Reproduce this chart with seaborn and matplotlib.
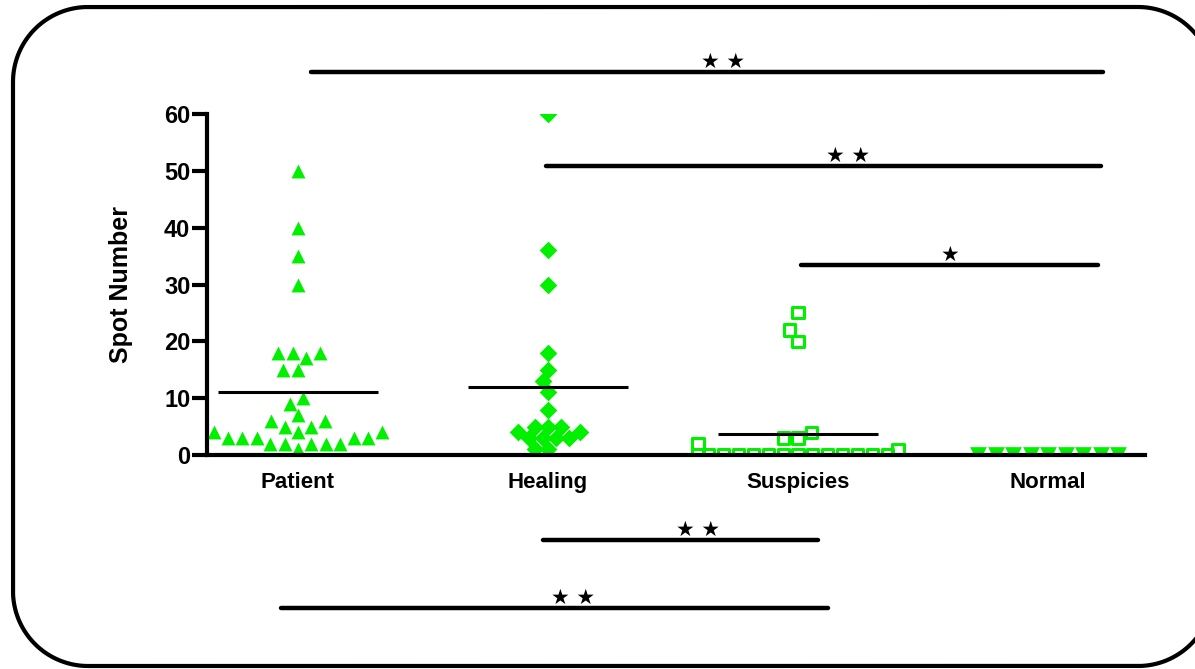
#-------------------------------------------
# Spot number per group: column scatter with
# group means and significance bars
#-------------------------------------------

import numpy as np
import pandas as pd
import matplotlib
matplotlib.use("Agg")
import matplotlib.pyplot as plt
import seaborn as sns
import warnings

warnings.filterwarnings("ignore")

#------------------ DATA -------------------------------------------

groups = ["Patient", "Healing", "Suspicies", "Normal"]

patient = [50, 40, 35, 30, 18, 18, 18, 17, 15, 15, 10, 9, 7, 6, 6, 5, 5,
           4, 4, 4, 3, 3, 3, 3, 3, 2, 2, 2, 2, 2, 1]
healing = [60, 36, 30, 18, 15, 13, 11, 8, 5, 5, 5, 4, 4, 3, 3, 3, 3, 1, 1]
suspicies = [25, 22, 20, 4, 3, 3, 2, 1, 0, 0, 0, 0, 0, 0, 0, 0, 0, 0, 0, 0, 0, 0]
normal = [0, 0, 0, 0, 0, 0, 0, 0, 0]

y_ticks = [0, 10, 20, 30, 40, 50, 60]

# significance comparisons: (start, end, bar level, label)
comparisons = [
    (0.05, 3.22, 67.4, "★ ★"),
    (0.99, 3.21, 50.9, "★ ★"),
    (2.01, 3.20, 33.4, "★"),
    (0.98, 2.08, -15.0, "★ ★"),
    (-0.07, 2.12, -26.9, "★ ★"),
]
star_x = [1.70, 2.20, 2.61, 1.60, 1.10]

#------------------ DATA VISUALISATION -----------------------------

sns.set_style("white")
plt.rcParams['font.family'] = ['Liberation Sans', 'DejaVu Sans']
plt.rcParams['text.color'] = 'black'
plt.rcParams['axes.labelcolor'] = 'black'
plt.rcParams['xtick.color'] = 'black'
plt.rcParams['ytick.color'] = 'black'

green = "#00f000"
W, H = 1195, 669

fig = plt.figure(figsize = (W/100, H/100), dpi = 100)

# Background axes in pixel units, holds the rounded frame (drawn as a polyline)

bg = fig.add_axes([0, 0, 1, 1], zorder = -1)
bg.set_xlim(0, W)
bg.set_ylim(0, H)
bg.axis("off")

fx0, fx1, fy0, fy1, r = 13, 1213, 3, 662, 75
t = np.linspace(0, np.pi / 2, 40)
fx = np.concatenate([fx1 - r + r*np.cos(t), fx0 + r - r*np.sin(t),
                     fx0 + r - r*np.cos(t), fx1 - r + r*np.sin(t), [fx1]])
fy = np.concatenate([fy1 - r + r*np.sin(t), fy1 - r + r*np.cos(t),
                     fy0 + r - r*np.sin(t), fy0 + r - r*np.cos(t), [fy1 - r]])
bg.plot(fx, fy, color = "black", linewidth = 3, clip_on = False)

ax = fig.add_axes([207/W, 1 - 455/H, (1145 - 207)/W, (455 - 114)/H])
ax.patch.set_alpha(0)

values = [patient, healing, suspicies, normal]
markers = ["^", "D", "s", "v"]
sizes = [10, 9, 8, 12]

for g, v, m, s in zip(groups, values, markers, sizes):
    d = pd.DataFrame({"group": [g] * len(v), "spots": v})
    if m == "s":
        sns.swarmplot(data = d, x = "group", y = "spots", order = groups, marker = m,
                      size = s, facecolor = "none", edgecolor = green, linewidth = 2.2,
                      ax = ax)
    else:
        sns.swarmplot(data = d, x = "group", y = "spots", order = groups, marker = m,
                      size = s, color = green, linewidth = 0, ax = ax)

# Group means

for i, v in enumerate(values):
    ax.hlines(np.mean(v), i - 0.32, i + 0.32, color = "black", linewidth = 2.2, zorder = 4)

# Significance bars

for (x0, x1, lvl, lab), sx in zip(comparisons, star_x):
    ax.plot([x0, x1], [lvl, lvl], color = "black", linewidth = 3.2,
            solid_capstyle = "round", clip_on = False, zorder = 5)
    ax.text(sx, lvl, lab, ha = "center", va = "bottom", fontsize = 15, color = "black",
            family = "DejaVu Sans", clip_on = False)

# Axes styling

ax.set_xlim(-0.364, 3.388)
ax.set_ylim(0, 60)
ax.set_yticks(y_ticks)
ax.set_xlabel("")
ax.set_ylabel("Spot Number", fontsize = 18, fontweight = "bold", labelpad = 22)

for side in ["top", "right"]:
    ax.spines[side].set_visible(False)
for side in ["left", "bottom"]:
    ax.spines[side].set_linewidth(3)
    ax.spines[side].set_color("black")
    ax.spines[side].set_zorder(6)

ax.tick_params(axis = "y", direction = "out", length = 11, width = 3, pad = 1,
               labelsize = 17, left = True)
ax.tick_params(axis = "x", length = 0, pad = 12, labelsize = 16)
for lab in ax.get_yticklabels() + ax.get_xticklabels():
    lab.set_fontweight("bold")

plt.savefig("out.png", dpi = 100)
